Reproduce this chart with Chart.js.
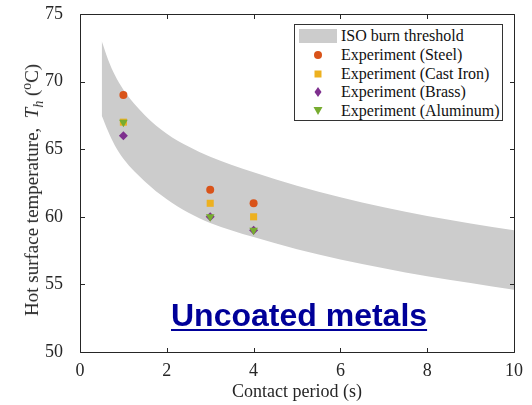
<!DOCTYPE html>
<html>
<head>
<meta charset="utf-8">
<script src="https://cdn.jsdelivr.net/npm/chart.js@4.4.1/dist/chart.umd.min.js"></script>
<style>
  body { margin: 0; background: #fff; }
  #wrap { position: relative; width: 532px; height: 405px; }
  #yTitle {
    position: absolute; left: 32px; top: 190px;
    transform: translate(-50%, -50%) rotate(-90deg);
    white-space: nowrap; font: 19px "Liberation Serif", serif; color: #262626;
  }
  #yTitle sub, #yTitle sup { font-size: 0.72em; line-height: 0; }
  #legend {
    position: absolute; left: 294px; top: 24px; width: 209px; height: 97px;
    border: 1px solid #333; background: #fff; box-sizing: border-box;
    font: 16px "Liberation Serif", serif; color: #111;
  }
  .row { position: absolute; left: 0; height: 18px; display: flex; align-items: center; }
  .row svg { width: 40px; height: 18px; margin-left: 3px; margin-right: 3px; }
  #note {
    position: absolute; left: 171px; top: 299px;
    font: bold 32px "Liberation Sans", Arial, sans-serif; line-height: 1; color: #000099;
    text-decoration: underline; text-decoration-thickness: 2px; text-underline-offset: 3px;
    white-space: nowrap;
  }
</style>
</head>
<body>
<div id="wrap">
  <canvas id="chart" width="532" height="405"></canvas>
  <div id="yTitle">Hot surface temperature,&nbsp; <i>T</i><sub><i>h</i></sub> (<sup>o</sup>C)</div>
  <div id="legend"></div>
  <div id="note">Uncoated metals</div>
</div>
<script>
// ISO burn threshold band (upper / lower edge)
const bandX = [0.5, 0.65, 0.8, 1, 1.5, 2, 2.5, 3, 4, 5, 6, 7, 8, 9, 10];
const bandUpper = [73.0, 71.6, 70.5, 69.4, 67.5, 66.15, 65.2, 64.45, 63.3, 62.3, 61.45, 60.7, 60.05, 59.5, 59.0];
const bandLower = [67.5, 66.3, 65.3, 64.3, 62.6, 61.3, 60.3, 59.55, 58.5, 57.6, 56.85, 56.2, 55.6, 55.1, 54.6];

// Experiments
const contactTimes = [1, 3, 4];
const steelTemps = [69, 62, 61];
const castIronTemps = [67, 61, 60];
const brassTemps = [66, 60, 59];
const aluminumTemps = [67, 60, 59];

const seriesNames = ["ISO burn threshold", "Experiment (Steel)", "Experiment (Cast Iron)", "Experiment (Brass)", "Experiment (Aluminum)"];
const xTicks = [0, 2, 4, 6, 8, 10];
const yTicks = [50, 55, 60, 65, 70, 75];

const bandColor = "#cccccc";
const colors = ["#D95319", "#EDB120", "#7E2F8E", "#77AC30"];
const axisColor = "#262626";
const serif = "'Liberation Serif', 'Times New Roman', serif";

const toPts = (xs, ys) => xs.map((x, i) => ({ x: x, y: ys[i] }));

function pointSet(label, ys, color, style, radius, rotation, order) {
  return {
    label: label,
    data: toPts(contactTimes, ys),
    showLine: false,
    pointStyle: style,
    pointRadius: radius,
    pointRotation: rotation,
    pointBackgroundColor: color,
    pointBorderColor: color,
    pointBorderWidth: 0,
    order: order
  };
}

// inward ticks + box round the plot, like the original figure
const boxTicks = {
  id: "boxTicks",
  afterDatasetsDraw(chart) {
    const { ctx, chartArea: a, scales: { x, y } } = chart;
    const L = Math.round(a.left) + 0.5, R = Math.round(a.right) + 0.5;
    const T = Math.round(a.top) + 0.5, B = Math.round(a.bottom) + 0.5;
    const len = 4.5;
    ctx.save();
    ctx.strokeStyle = axisColor;
    ctx.lineWidth = 1;
    ctx.beginPath();
    ctx.rect(L, T, R - L, B - T);
    xTicks.forEach(v => {
      const px = Math.round(x.getPixelForValue(v)) + 0.5;
      ctx.moveTo(px, B); ctx.lineTo(px, B - len);
      ctx.moveTo(px, T); ctx.lineTo(px, T + len);
    });
    yTicks.forEach(v => {
      const py = Math.round(y.getPixelForValue(v)) + 0.5;
      ctx.moveTo(L, py); ctx.lineTo(L + len, py);
      ctx.moveTo(R, py); ctx.lineTo(R - len, py);
    });
    ctx.stroke();
    ctx.restore();
  }
};

const chart = new Chart(document.getElementById("chart"), {
  type: "line",
  data: {
    datasets: [
      {
        label: "lower",
        data: toPts(bandX, bandLower),
        borderWidth: 0,
        pointRadius: 0,
        fill: false,
        cubicInterpolationMode: "monotone",
        order: 10
      },
      {
        label: seriesNames[0],
        data: toPts(bandX, bandUpper),
        borderWidth: 0,
        pointRadius: 0,
        backgroundColor: bandColor,
        fill: 0,
        cubicInterpolationMode: "monotone",
        order: 9
      },
      pointSet(seriesNames[1], steelTemps, colors[0], "circle", 4, 0, 4),
      pointSet(seriesNames[2], castIronTemps, colors[1], "rect", 5, 0, 3),
      pointSet(seriesNames[3], brassTemps, colors[2], "rectRot", 4.5, 0, 2),
      pointSet(seriesNames[4], aluminumTemps, colors[3], "triangle", 5, 180, 1)
    ]
  },
  options: {
    responsive: false,
    animation: false,
    layout: { padding: { top: 14, right: 18, left: 0, bottom: 0 } },
    plugins: { legend: { display: false }, tooltip: { enabled: false } },
    scales: {
      x: {
        type: "linear",
        min: 0, max: 10,
        afterBuildTicks: s => { s.ticks = xTicks.map(v => ({ value: v })); },
        afterFit: s => { s.height = 53; s.paddingLeft = 0; s.paddingRight = 0; },
        grid: { display: false, drawTicks: false },
        border: { display: false },
        ticks: { color: axisColor, padding: 8, font: { family: serif, size: 18 } },
        title: {
          display: true, text: "Contact period (s)", color: axisColor,
          font: { family: serif, size: 18 }, padding: { top: 0, bottom: 2 }
        }
      },
      y: {
        type: "linear",
        min: 50, max: 75,
        afterBuildTicks: s => { s.ticks = yTicks.map(v => ({ value: v })); },
        afterFit: s => { s.width = 80; s.paddingTop = 0; s.paddingBottom = 0; },
        grid: { display: false, drawTicks: false },
        border: { display: false },
        ticks: { color: axisColor, padding: 17, font: { family: serif, size: 18 } }
      }
    }
  },
  plugins: [boxTicks]
});

// Legend (HTML), built from the series names/colours
const legendEl = document.getElementById("legend");
const markers = [
  '<rect x="1" y="2" width="38" height="14" fill="' + bandColor + '"/>',
  '<circle cx="20" cy="9" r="4" fill="' + colors[0] + '"/>',
  '<rect x="16.5" y="5.5" width="7" height="7" fill="' + colors[1] + '"/>',
  '<polygon points="20,4 23.5,9 20,14 16.5,9" fill="' + colors[2] + '"/>',
  '<polygon points="15.5,5 24.5,5 20,13" fill="' + colors[3] + '"/>'
];
const rowTops = [2, 21, 39.5, 58, 76.5];
seriesNames.forEach((name, i) => {
  const row = document.createElement("div");
  row.className = "row";
  row.style.top = rowTops[i] + "px";
  row.innerHTML = '<svg viewBox="0 0 40 18">' + markers[i] + '</svg><span>' + name + '</span>';
  legendEl.appendChild(row);
});
</script>
</body>
</html>
